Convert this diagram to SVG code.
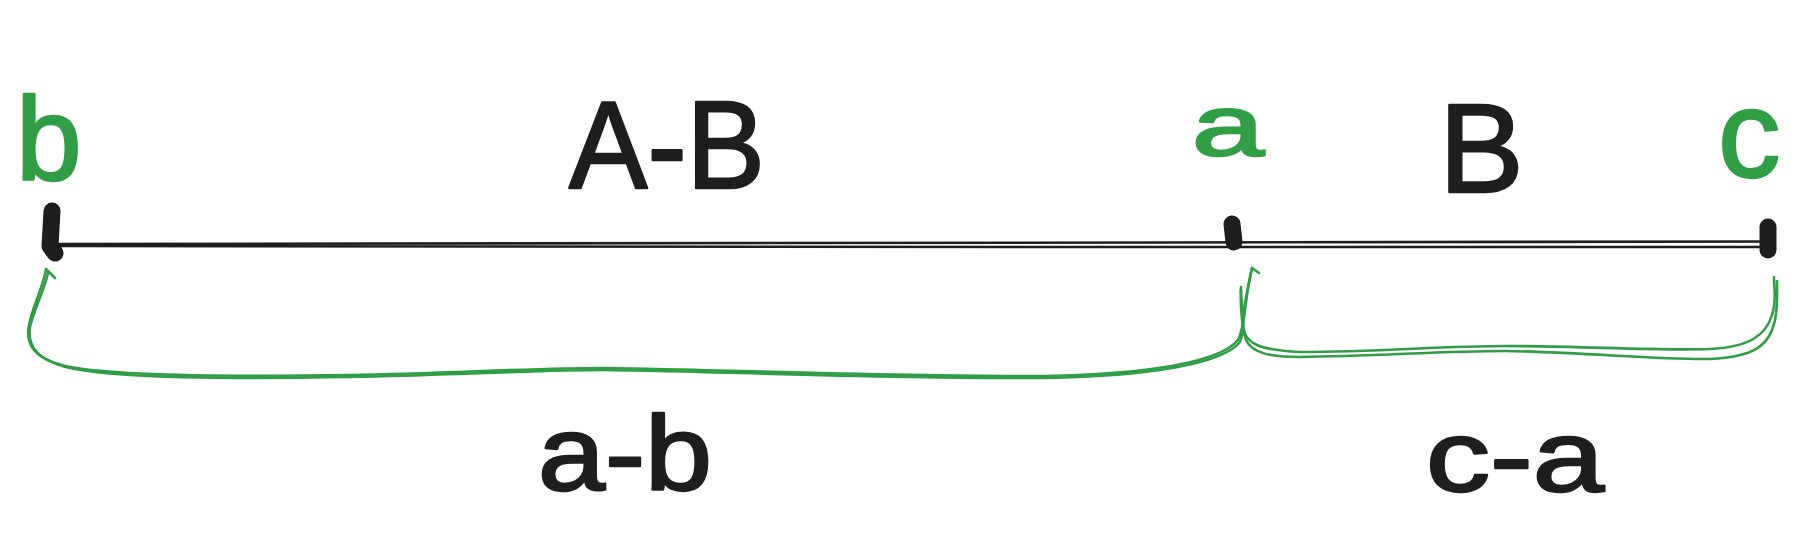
<svg xmlns="http://www.w3.org/2000/svg" width="1820" height="554" viewBox="0 0 1820 554">
<style>
.t{font-family:"Liberation Sans",Arial,sans-serif;fill:#1e1e1e;stroke:#1e1e1e;stroke-width:2.5;stroke-linejoin:round}
.g{fill:#2f9e44;stroke:#2f9e44}
.ln{fill:none;stroke:#1e1e1e;stroke-width:2.6;stroke-linecap:round}
.tick{fill:none;stroke:#1e1e1e;stroke-width:17;stroke-linecap:round;stroke-linejoin:round}
.br{fill:none;stroke:#2f9e44;stroke-width:2.6;stroke-linecap:round;stroke-linejoin:round}
</style>
<rect width="1820" height="554" fill="#ffffff"/>
<g id="axis">
<path class="ln" d="M 58 244 C 500 243.5, 1200 242.5, 1770 241.5"/>
<path class="ln" d="M 60 246 C 500 246.5, 1200 247.5, 1768 247"/>
<path class="tick" d="M 52 211 L 50 246 L 55 253"/>
<path class="tick" d="M 1232 224 L 1234 242"/>
<path class="tick" d="M 1768 227 L 1768 250"/>
</g>
<g id="connectors">
<path class="br" d="M 55 278 L 46 269 C 44 285, 32 308, 29 325 C 25 345, 35 360, 70 367 C 120 376, 220 377, 350 375 C 450 373, 540 368, 604 368 C 700 369, 900 377, 1045 376 C 1150 374, 1220 362, 1238 340 C 1246 325, 1244 300, 1252 268 L 1259 273"/>
<path class="br" d="M 48 273 C 45 288, 34 310, 30 327 C 27 347, 38 362, 75 369 C 125 378, 220 379, 350 377 C 450 375, 540 370, 604 370 C 700 371, 900 379, 1045 378 C 1150 376, 1222 364, 1240 342 C 1247 325, 1240 300, 1241 287"/>
<path class="br" d="M 1252 268 C 1248 290, 1242 310, 1243 325 C 1244 345, 1262 350, 1300 352 C 1380 352, 1440 346, 1505 346 C 1580 346, 1660 351, 1710 349 C 1750 347, 1766 335, 1772 315 C 1777 300, 1774 288, 1774 277"/>
<path class="br" d="M 1241 290 C 1240 310, 1243 330, 1246 340 C 1252 353, 1270 357, 1300 357 C 1380 356, 1440 351, 1505 351 C 1580 352, 1660 360, 1710 359 C 1755 357, 1770 345, 1775 320 C 1778 305, 1777 290, 1777 281"/>
</g>
<g id="label-b"><text class="t g" x="16" y="180" font-size="118">b</text></g>
<g id="label-A-B"><text class="t" x="569" y="188" font-size="125" textLength="196" lengthAdjust="spacingAndGlyphs">A-B</text></g>
<g id="label-a"><text class="t g" x="1192" y="155" font-size="85" textLength="72" lengthAdjust="spacingAndGlyphs">a</text></g>
<g id="label-B"><text class="t" x="1439" y="192" font-size="127">B</text></g>
<g id="label-c"><text class="t g" x="1718" y="177" font-size="125">c</text></g>
<g id="label-a-b"><text class="t" x="538" y="490" font-size="105" textLength="174" lengthAdjust="spacingAndGlyphs">a-b</text></g>
<g id="label-c-a"><text class="t" x="1426" y="491" font-size="100" textLength="178" lengthAdjust="spacingAndGlyphs">c-a</text></g>
</svg>
